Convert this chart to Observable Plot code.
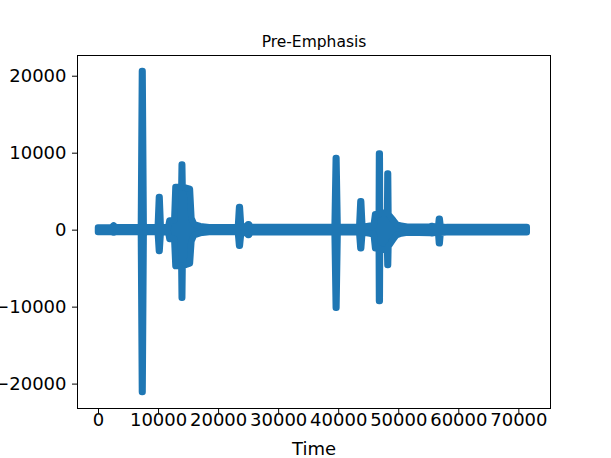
<!DOCTYPE html>
<html>
<head>
<meta charset="utf-8">
<script src="https://cdn.jsdelivr.net/npm/d3@7"></script>
<script src="https://cdn.jsdelivr.net/npm/@observablehq/plot@0.6"></script>
<style>
  html, body { margin: 0; padding: 0; background: #fff; }
</style>
</head>
<body>
<div id="chart"></div>
<script>
// Envelope of the pre-emphasised signal (sample index, upper value, lower value)
const time  = [0, 2300, 2600, 2900, 6900, 7150, 7320, 7420, 7600, 7900, 9950, 10150, 10250, 10450,
  11700, 11900, 12700, 12900, 13880, 13940, 14020, 14080, 15300, 15550, 16000, 17000, 18500,
  23300, 23500, 23620, 23820, 24700, 24950, 25150, 25400, 39400, 39600, 39700, 39900,
  43500, 43700, 43820, 44020, 45300, 45900, 46150, 46760, 46800, 46920, 46960, 48150, 48200, 48300, 48360,
  49200, 49700, 50500, 51500, 55300, 55600, 56000, 56650, 56780, 56900, 57050, 58000, 71400];
const upper = [280, 320, 550, 320, 320, 650, 20600, 20600, 650, 300, 300, 4250, 4250, 300,
  350, 1200, 1200, 5550, 5550, 8450, 8450, 5550, 5300, 1500, 700, 450, 320,
  320, 2950, 2950, 500, 350, 700, 700, 330, 330, 9320, 9320, 350,
  330, 3680, 3680, 350, 520, 520, 2000, 2000, 9880, 9880, 2200, 2200, 7280, 7280, 2000,
  1200, 700, 500, 380, 420, 480, 400, 400, 1430, 1430, 400, 330, 330];
const lower = [-300, -320, -380, -320, -320, -650, -21080, -21080, -650, -300, -300, -2770, -2770, -300,
  -350, -1200, -1200, -4720, -4720, -8840, -8840, -4720, -4400, -1500, -700, -450, -320,
  -320, -2080, -2080, -500, -350, -700, -700, -330, -330, -10140, -10140, -350,
  -330, -2430, -2430, -350, -520, -520, -2400, -2400, -9270, -9270, -2600, -2600, -4590, -4590, -2200,
  -1200, -700, -500, -380, -420, -480, -400, -400, -1780, -1780, -400, -330, -330];

const xTicks = [0, 10000, 20000, 30000, 40000, 50000, 60000, 70000];
const yTicks = [-20000, -10000, 0, 10000, 20000];
const title = "Pre-Emphasis";
const xLabel = "Time";

const data = time.map((t, i) => ({t, hi: upper[i], lo: lower[i]}));
const fmt = d3.format("d");

const chart = Plot.plot({
  width: 611,
  height: 458,
  marginLeft: 77,
  marginRight: 61,
  marginTop: 55,
  marginBottom: 50,
  style: {fontFamily: "DejaVu Sans", fontSize: "18px", color: "#000", background: "#fff"},
  x: {domain: [-3500, 75270]},
  y: {domain: [-23170, 22690]},
  marks: [
    Plot.areaY(data, {
      x: "t", y1: "lo", y2: "hi",
      fill: "#1f77b4", stroke: "#1f77b4", strokeWidth: 6.5,
      strokeLinejoin: "round", curve: "linear"
    }),
    Plot.frame({stroke: "#000", strokeWidth: 1}),
    Plot.axisX({ticks: xTicks, tickSize: 5, tickPadding: 0, tickFormat: fmt, label: null, fontSize: 18}),
    Plot.axisY({ticks: yTicks, tickSize: 5, tickPadding: 6, tickFormat: fmt, label: null, fontSize: 18}),
    Plot.text([title], {text: d => d, frameAnchor: "top", lineAnchor: "middle", dy: -13, fontSize: 15.5}),
    Plot.text([xLabel], {text: d => d, frameAnchor: "bottom", lineAnchor: "middle", dy: 40.5, fontSize: 18})
  ]
});
document.getElementById("chart").appendChild(chart);
</script>
</body>
</html>
